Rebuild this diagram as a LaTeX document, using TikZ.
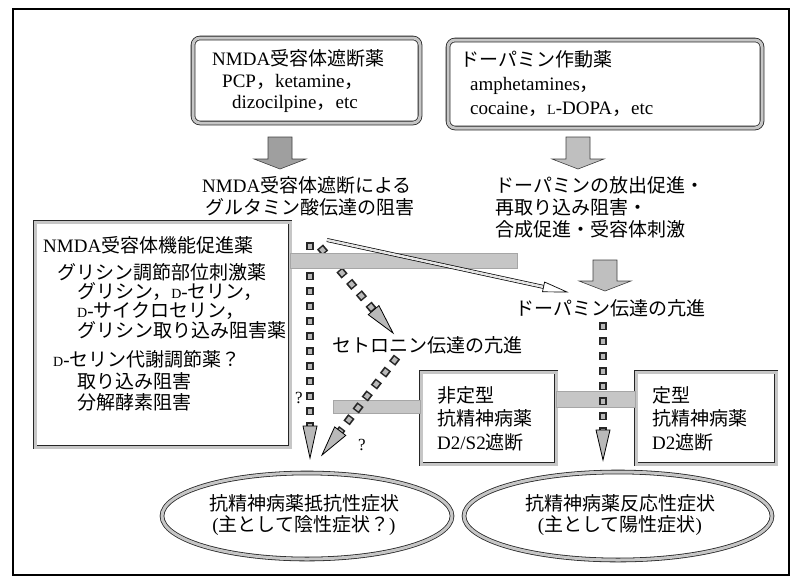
\documentclass[tikz,border=0pt]{standalone}
\usepackage{fontspec}
\setmainfont{Liberation Serif}
\newfontfamily\jp{Noto Sans CJK JP}
\usetikzlibrary{calc,shapes.geometric}
\newcommand\latn[1]{{\rmfamily #1}}
\newcommand\smD{{\rmfamily\fontsize{14}{14}\selectfont D}}
\newcommand\smL{{\rmfamily\fontsize{14}{14}\selectfont L}}
\newcommand\blockarrow[3]{%
  \filldraw[#3] ($(#1)+(-12,0)$) -- ($(#1)+(12,0)$) -- ($(#2)+(12,-10)$) -- ($(#2)+(26,-10)$) -- (#2) -- ($(#2)+(-26,-10)$) -- ($(#2)+(-12,-10)$) -- cycle;}
\newcommand\dotarrow[3]{%
  \coordinate (dH) at ($(#2)!#3!(#1)$);
  \draw[dotout] (#1) -- (dH);
  \draw[dotin] (#1) -- (dH);
  \filldraw[headst] (#2) -- ($(dH)!7pt!90:(#2)$) -- ($(dH)!7pt!-90:(#2)$) -- cycle;}
\tikzset{
  txt/.style={font=\jp\fontsize{19}{21}\selectfont, inner sep=0pt, align=left, anchor=west},
  sbox/.style={draw=black!85, line width=0.8pt, double=gray!45, double distance=3pt, inner sep=0pt},
  rbox/.style={sbox, rounded corners=7pt},
  ell/.style={ellipse, draw=black!85, line width=0.8pt, double=gray!45, double distance=3pt, inner sep=0pt},
  bar/.style={fill=gray!45, draw=gray!70, line width=0.4pt},
  dotout/.style={line width=8pt, black!85, dash pattern=on 8pt off 7pt},
  dotin/.style={line width=4.5pt, gray!55, dash pattern=on 5pt off 10pt, dash phase=13.5pt},
  headst/.style={fill=gray!55, draw=black, line width=0.8pt},
  qm/.style={font=\rmfamily\fontsize{17}{17}\selectfont, inner sep=0pt}
}
\begin{document}
\begin{tikzpicture}[x=1pt,y=-1pt]
\useasboundingbox (0,0) rectangle (792,581);
\draw[line width=1.1pt] (13,9) rectangle (789,575);

% boxes
\node[rbox, minimum width=227pt, minimum height=85pt] (nmda) at (306.5,80.5) {};
\node[rbox, minimum width=314pt, minimum height=88pt] (dop) at (605,84) {};
\node[sbox, minimum width=255pt, minimum height=225pt] (prom) at (162.5,334.5) {};
\node[sbox, minimum width=135pt, minimum height=92pt] (atyp) at (488.5,418) {};
\node[sbox, minimum width=140pt, minimum height=92pt] (typ) at (706,418) {};
\node[ell, minimum width=290pt, minimum height=86pt] (e1) at (307,516) {};
\node[ell, minimum width=308pt, minimum height=88pt] (e2) at (618,516) {};

% texts
\node[txt, font=\jp\fontsize{19}{21.5}\selectfont] (nmdaT) at (212,81.5) {\latn{NMDA}受容体遮断薬\\
\hspace*{10pt}\latn{PCP}，\latn{ketamine}，\\
\hspace*{20pt}\latn{dizocilpine}，\latn{etc}};
\node[txt, font=\jp\fontsize{19}{24}\selectfont] (dopT) at (460,84) {ドーパミン作動薬\\
\hspace*{10pt}\latn{amphetamines}，\\
\hspace*{10pt}\latn{cocaine}，\smL\latn{-DOPA}，\latn{etc}};
\node[txt, font=\jp\fontsize{19}{22}\selectfont] (glutT) at (202,196) {\latn{NMDA}受容体遮断による\\
\hspace*{3pt}グルタミン酸伝達の阻害};
\node[txt, font=\jp\fontsize{19}{22}\selectfont] (relT) at (495,207) {ドーパミンの放出促進・\\再取り込み阻害・\\合成促進・受容体刺激};
\node[txt, font=\jp\fontsize{19}{19}\selectfont] (promT) at (43,323.5) {\latn{NMDA}受容体機能促進薬\\[8pt]
\hspace*{14pt}グリシン調節部位刺激薬\\
\hspace*{34pt}グリシン，\smD\latn{-}セリン，\\
\hspace*{34pt}\smD\latn{-}サイクロセリン，\\[1pt]
\hspace*{34pt}グリシン取り込み阻害薬\\[10pt]
\hspace*{10pt}\smD\latn{-}セリン代謝調節薬？\\[3pt]
\hspace*{34pt}取り込み阻害\\[2pt]
\hspace*{34pt}分解酵素阻害};
\node[txt, font=\jp\fontsize{19}{23.5}\selectfont] (atypT) at (437,418.5) {非定型\\抗精神病薬\\\latn{D2/S2}遮断};
\node[txt, font=\jp\fontsize{19}{23.5}\selectfont] (typT) at (652,418.5) {定型\\抗精神病薬\\\latn{D2}遮断};
\node[txt, align=center, anchor=center] (e1T) at (304,515) {抗精神病薬抵抗性症状\\\latn{(}主として陰性症状？\latn{)}};
\node[txt, align=center, anchor=center] (e2T) at (620,515) {抗精神病薬反応性症状\\\latn{(}主として陽性症状\latn{)}};
\node[txt] (serT) at (332,345) {セトロニン伝達の亢進};
\node[txt] (enhT) at (515,308) {ドーパミン伝達の亢進};
\node[qm] (q1) at (299,398) {?};
\node[qm] (q2) at (362,445) {?};

% block arrows
\coordinate (a1s) at (280,137); \coordinate (a1e) at (280,169);
\coordinate (a2s) at (578,137); \coordinate (a2e) at (578,169);
\coordinate (a3s) at (605,260); \coordinate (a3e) at (605,291);
\blockarrow{a1s}{a1e}{fill=gray!75, draw=black!75, line width=0.6pt}
\blockarrow{a2s}{a2e}{fill=gray!50, draw=black!75, line width=0.6pt}
\blockarrow{a3s}{a3e}{fill=gray!50, draw=black!75, line width=0.6pt}

% dotted arrows behind bar 1
\coordinate (d1s) at (310,242); \coordinate (d1e) at (310,458);
\coordinate (d2s) at (320,247); \coordinate (d2e) at (393,333);
\dotarrow{d1s}{d1e}{32pt}
\dotarrow{d2s}{d2e}{30pt}

% bars
\fill[bar] (prom.east|-0,253) rectangle (517,268);
\fill[bar] (333,400) rectangle (atyp.west|-0,413);
\fill[bar] (atyp.east|-0,391) rectangle (typ.west|-0,407);

% outlined arrow
\coordinate (o1) at (327,240); \coordinate (o2) at (567,292);
\coordinate (oH) at ($(o2)!24pt!(o1)$);
\draw[line width=0.7pt, double=gray!20, double distance=2.5pt] (o1) -- (oH);
\filldraw[fill=white, draw=black, line width=0.7pt] (o2) -- ($(oH)!5pt!90:(o2)$) -- ($(oH)!5pt!-90:(o2)$) -- cycle;

% dotted arrows in front of bars
\coordinate (d3s) at (603,322); \coordinate (d3e) at (603,460);
\coordinate (d4s) at (397,357); \coordinate (d4e) at (322,455);
\dotarrow{d3s}{d3e}{30pt}
\dotarrow{d4s}{d4e}{30pt}
\end{tikzpicture}
\end{document}
